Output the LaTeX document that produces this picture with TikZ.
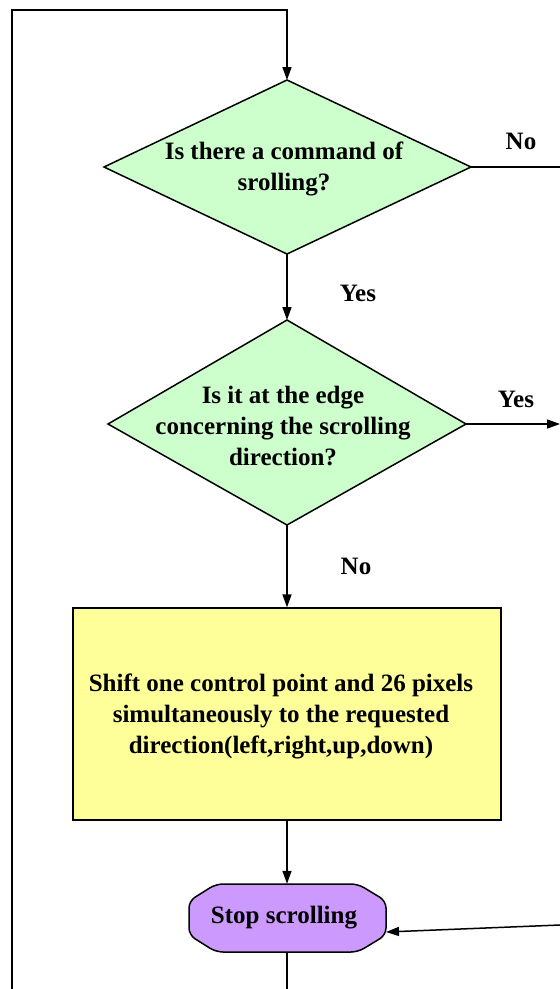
\documentclass[tikz,border=0pt]{standalone}
\usepackage{fontspec}
\setmainfont{Liberation Serif}
\usetikzlibrary{arrows.meta}
\definecolor{dgreen}{HTML}{CCFFCC}
\definecolor{byellow}{HTML}{FFFF99}
\definecolor{spurple}{HTML}{CC99FF}
\begin{document}
\begin{tikzpicture}[x=1pt,y=-1pt,
  every node/.style={font=\fontsize{25}{31}\selectfont\bfseries, align=center, inner sep=0pt},
  ln/.style={line width=1.5pt, draw=black},
  arr/.style={ln, -{Triangle[length=13pt,width=9pt]}},
  procbox/.style={rectangle, draw=black, line width=1.3pt, fill=byellow},
  lbl/.style={font=\fontsize{25}{28}\selectfont\bfseries}
]
\useasboundingbox (0,0) rectangle (560,989);
% decision 1
\coordinate (d1t) at (287,80);
\coordinate (d1b) at (287,254);
\coordinate (d1l) at (104,167);
\coordinate (d1r) at (471,167);
\path[ln, fill=dgreen] (d1t) -- (d1r) -- (d1b) -- (d1l) -- cycle;
\node (d1) at (284,169) {Is there a command of\\srolling?};
% decision 2
\coordinate (d2t) at (287,320);
\coordinate (d2b) at (287,525);
\coordinate (d2l) at (108,424);
\coordinate (d2r) at (466,424);
\path[ln, fill=dgreen] (d2t) -- (d2r) -- (d2b) -- (d2l) -- cycle;
\node (d2) at (283,426) {Is it at the edge\\concerning the scrolling\\direction?};
% process box
\node[procbox, minimum width=428pt, minimum height=212pt] (box) at (287,714) {};
\node (boxtext) at (281,716) {Shift one control point and 26 pixels\\simultaneously to the requested\\direction(left,right,up,down)};
% stop (octagon with soft corners)
\path[ln, fill=spurple, rounded corners=7pt]
  (216,884) -- (358,884) -- (386,901) -- (386,935) -- (358,952) -- (216,952) -- (189,935) -- (189,901) -- cycle;
\node[minimum width=197pt, minimum height=68pt] (stop) at (287,918) {};
\node (stoptext) at (284,918) {Stop scrolling};
% free ends
\coordinate (tl) at (12,10);
\coordinate (tr) at (287,10);
\coordinate (bl) at (12,989);
\coordinate (sb) at (287,989);
\coordinate (r1) at (560,167);
\coordinate (r2) at (560,424);
\coordinate (r3) at (560,925);
\coordinate (r3t) at (386,932);
% connectors
\draw[arr] (bl) -- (tl) -- (tr) -- (d1t);
\draw[ln] (d1r) -- (r1);
\draw[arr] (d1b) -- (d2t);
\draw[arr] (d2r) -- (r2);
\draw[arr] (d2b) -- (box.north);
\draw[arr] (box.south) -- (stop.north);
\draw[arr] (r3) -- (r3t);
\draw[ln] (stop.south) -- (sb);
% labels
\node[lbl] (lno1) at (521,141) {No};
\node[lbl] (lyes1) at (358,293) {Yes};
\node[lbl] (lyes2) at (516,399) {Yes};
\node[lbl] (lno2) at (356,566) {No};
\end{tikzpicture}
\end{document}
